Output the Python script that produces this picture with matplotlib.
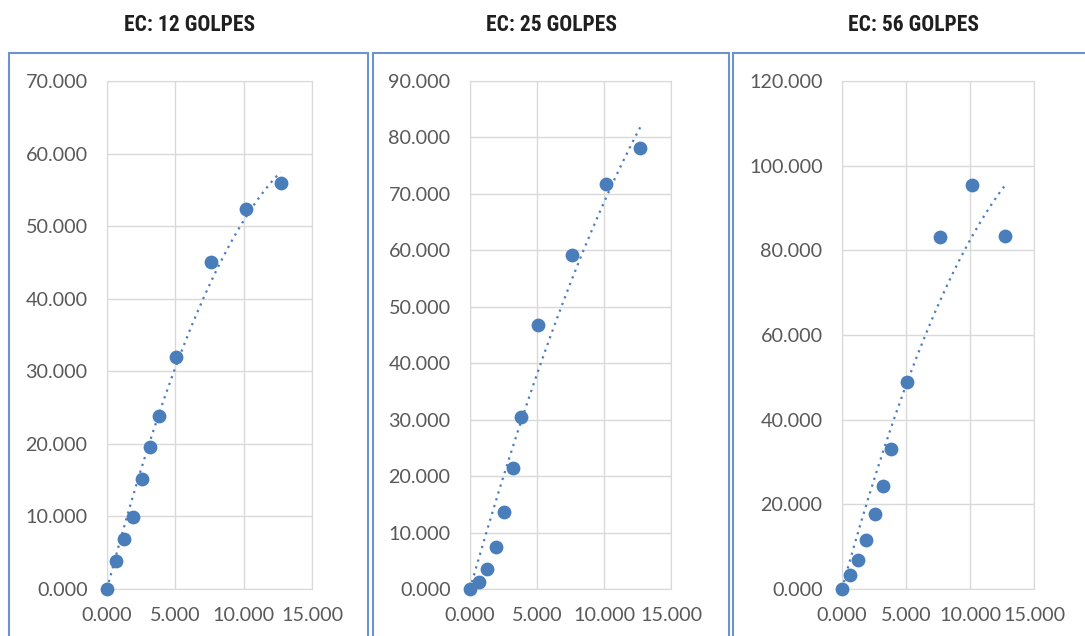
import numpy as np
import matplotlib
matplotlib.use("Agg")
import matplotlib.pyplot as plt
from matplotlib.patches import Rectangle
from matplotlib import font_manager

# penetration values (same for all three tests)
pen = [0.0, 0.635, 1.27, 1.905, 2.54, 3.175, 3.81, 5.08, 7.62, 10.16, 12.70]

# loads
load_12 = [0.0, 3.9, 6.9, 9.9, 15.1, 19.6, 23.9, 32.0, 45.0, 52.3, 55.9]
load_25 = [0.0, 1.3, 3.5, 7.4, 13.7, 21.5, 30.5, 46.8, 59.2, 71.7, 78.1]
load_56 = [0.0, 3.2, 6.9, 11.5, 17.8, 24.4, 33.0, 48.9, 83.2, 95.4, 83.4]

titles = ["EC: 12 GOLPES", "EC: 25 GOLPES", "EC: 56 GOLPES"]
ymax = [70, 90, 120]
ystep = [10, 10, 20]
series = [load_12, load_25, load_56]

# narrow font for the titles if there is one
names = {f.name for f in font_manager.fontManager.ttflist}
tfont, tsize = 'Liberation Sans', 13.5
for nm in ['Liberation Sans Narrow', 'Roboto Condensed', 'Open Sans Condensed']:
    if nm in names:
        tfont, tsize = nm, 15.5
        break

blue = '#4A7EBB'
W, H = 1085, 636
fig = plt.figure(figsize=(W/100, H/100), dpi=100)

# axes placement in pixels: left, right, bottom, top
boxes_px = [(107, 312, 589, 81), (470, 671, 589, 81), (842, 1034, 589, 81)]
frames_px = [(9, 368), (373, 729), (733, 1090)]
title_x = [190, 551, 913]

for i in range(3):
    l, r, b, t = boxes_px[i]
    ax = fig.add_axes([l/W, 1-b/H, (r-l)/W, (b-t)/H])
    x = np.array(pen)
    y = np.array(series[i])
    # 2nd order trend, intercept set to 0
    A = np.column_stack([x, x**2])
    c = np.linalg.lstsq(A, y, rcond=None)[0]
    xf = np.linspace(0, x.max(), 100)
    ax.plot(xf, c[0]*xf + c[1]*xf**2, color=blue, lw=1.6, ls=(0, (1, 2.2)), zorder=2)
    ax.scatter(x, y, s=80, color=blue, zorder=3, clip_on=False)
    ax.set_xlim(0, 15)
    ax.set_ylim(0, ymax[i])
    ax.set_xticks([0, 5, 10, 15])
    ax.set_yticks(np.arange(0, ymax[i]+1, ystep[i]))
    ax.xaxis.set_major_formatter(lambda v, p: f"{v:.3f}")
    ax.yaxis.set_major_formatter(lambda v, p: f"{v:.3f}")
    ax.grid(True, color='#D9D9D9', lw=1)
    ax.set_axisbelow(True)
    for s in ax.spines.values():
        s.set_color('#D9D9D9')
    ax.tick_params(length=0, labelsize=14.2, labelcolor='#595959')
    ax.tick_params(axis='y', pad=14)
    ax.tick_params(axis='x', pad=13)
    for lab in ax.get_xticklabels() + ax.get_yticklabels():
        lab.set_family(['Lato', 'DejaVu Sans'])

    fl, fr = frames_px[i]
    fig.patches.append(Rectangle((fl/W, -0.1), (fr-fl)/W, 1.1-53/H,
                                 transform=fig.transFigure, fill=False,
                                 edgecolor='#6A93CF', lw=1.5))
    fig.text(title_x[i]/W, 1-25/H, titles[i], ha='center', va='center',
             fontsize=tsize, fontweight='bold', color='#1F1F1F', family=tfont)

fig.savefig('out.png', dpi=100, facecolor='white')
